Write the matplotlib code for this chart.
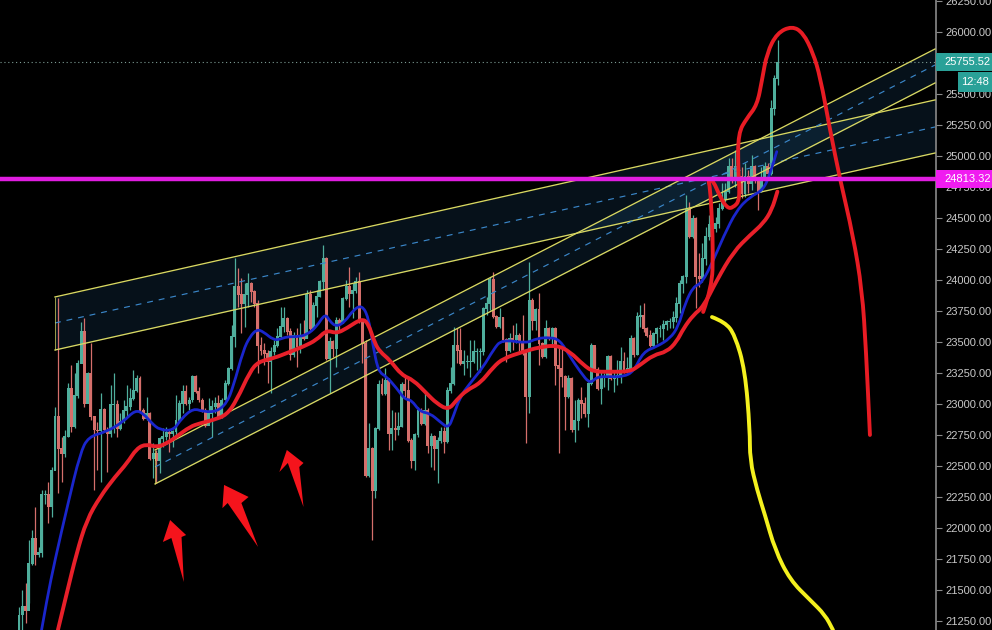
import matplotlib
matplotlib.use('Agg')
import matplotlib.pyplot as plt
from matplotlib.patches import Rectangle, Polygon, PathPatch
from matplotlib.path import Path

# candle data, open of each bar is the previous close
first_open = 21177
closes = [21298,21365,21338,21715,21916,21782,21800,22266,22270,22172,22467,22898,22642,22602,22736,23126,22817,23072,23327,23583,
          23005,23247,22898,22790,22785,22957,22790,22758,22992,22992,22803,22857,22951,22978,23045,23112,23207,22951,22884,22924,
          22562,22602,22548,22723,22736,22768,22763,22776,22870,23005,23099,23005,23032,23220,23099,23032,22951,22830,22924,22978,
          23005,22898,23032,23166,23287,23542,23946,23879,23811,23879,23973,23905,23811,23475,23435,23408,23341,23421,23475,23542,
          23623,23690,23583,23395,23556,23462,23556,23529,23879,23610,23798,23865,23986,24174,23368,23502,23448,23677,23650,23852,
          23946,23892,23919,23986,23664,23489,22427,22642,22306,22803,23153,23086,23193,22763,22803,22790,22817,23153,23112,22709,
          22548,22750,22951,22844,22951,22669,22736,22642,22709,22776,22696,23112,23166,23475,23435,23327,23341,23341,23341,23421,
          23421,23421,23771,23811,24000,23704,23623,23698,23516,23435,23529,23516,23556,23502,23408,23059,23838,23677,23758,23489,
          23381,23610,23542,23610,23314,23287,23220,23059,23206,22790,22870,23032,23005,22924,23166,23475,23274,23126,23220,23220,
          23381,23206,23220,23233,23341,23260,23287,23529,23395,23704,23717,23610,23556,23475,23569,23610,23610,23637,23664,23664,
          23700,23812,23973,24027,24565,24350,24498,24027,24014,24175,24350,24444,24417,24457,24578,24645,24713,24914,24834,24914,
          24834,24699,24834,24780,24914,24820,24713,24820,24914,24860,25385,25627,25755.52]
highs = [21365,21500,21553,21903,21983,22172,21850,22306,22306,22373,22494,22978,23852,22736,22790,23166,23314,23247,23354,23664,
         23690,23260,23489,22898,22857,23086,22965,22817,23153,23247,23032,22924,23032,23153,23126,23274,23233,23225,22965,23059,
         22938,22682,22629,22736,22803,22817,22790,22790,23072,23032,23153,23153,23059,23233,23233,23139,23045,22965,23045,23032,
         23059,23072,23045,23193,23300,23637,24174,24094,24013,23973,24053,23986,23919,23838,23542,23489,23435,23462,23516,23610,
         23785,23785,23704,23610,23583,23610,23650,23677,23919,23919,23825,23919,23999,24282,24188,23542,23516,23704,23690,23865,
         23999,24107,23973,24026,24067,23677,23516,22844,22656,22817,23193,23206,23287,23206,22951,22938,22938,23180,23233,23220,
         22723,22763,22978,22965,23086,22965,22763,22750,22736,22817,22817,23139,23300,23623,23610,23610,23435,23395,23516,23516,
         23448,23448,23785,23865,24026,24067,23717,23771,23704,23529,23570,23637,23650,23570,23717,23435,24147,23852,23771,23892,
         23502,23677,23623,23623,23623,23462,23462,23233,23233,23220,23032,23045,23139,23059,23180,23489,23462,23300,23260,23247,
         23395,23395,23274,23354,23462,23421,23381,23556,23542,23744,23798,23811,23623,23596,23583,23623,23637,23677,23677,23690,
         23750,23866,24000,24041,24686,24632,24525,24511,24215,24296,24430,24525,24457,24511,24619,24780,24780,24981,24981,25049,
         24928,24914,24941,24887,25008,24928,24834,24914,24955,24941,25452,25653,25936]
lows = [21177,21177,21231,21392,21701,21701,21768,21768,22190,22037,22091,22467,22279,22373,22575,22736,22776,22803,23050,23327,
        22978,23005,22871,22306,22467,22373,22776,22454,22736,22763,22736,22790,22844,22898,22951,23032,23099,22938,22870,22870,
        22548,22400,22360,22441,22656,22709,22615,22656,22750,22857,22924,22992,22951,23018,23085,23018,22938,22817,22844,22736,
        22924,22884,22884,23032,23153,23274,23462,23785,23570,23623,23785,23825,23785,23247,23395,23314,23166,23086,23395,23462,
        23529,23583,23556,23354,23381,23300,23408,23516,23529,23596,23610,23704,23865,23919,23354,23086,23381,23300,23596,23650,
        23838,23785,23690,23892,23650,23327,22414,22414,21903,22239,22790,23072,23072,22629,22629,22709,22750,22817,23059,22696,
        22481,22467,22736,22830,22830,22602,22494,22467,22360,22682,22602,22682,23086,23153,23327,23314,23233,23287,23220,23327,
        23274,23260,23395,23717,23758,23690,23610,23610,23502,23341,23421,23435,23489,23408,23395,22682,22924,23596,23596,23314,
        23368,23368,23516,23475,23153,22602,23139,22790,23045,22776,22696,22790,22884,22898,22817,23153,23260,23112,22998,23139,
        23112,23193,23099,23153,23166,23247,23247,23287,23381,23395,23623,23583,23542,23462,23448,23489,23542,23516,23596,23610,
        23610,23664,23732,23893,23973,24336,24336,23772,23947,23987,24121,24323,24189,24390,24417,24565,24632,24699,24780,24753,
        24780,24659,24672,24699,24726,24780,24565,24713,24807,24834,24847,25331,25573]

# moving averages, bar index and price
blue_x = [6.9,8.5,11,15,18.7,21.2,26.8,31.9,35.5,38,40.6,43.1,47.2,49.7,53.3,56.4,60.4,63.5,65.5,68.6,70.6,72.7,74.7,77.8,79.8,81.8,84.9,87.9,91,
          93.6,95.1,97.1,99.7,102.2,104.8,106.8,108.3,109.9,112.4,115.5,118,120,122.6,125.7,128.7,131.3,132.8,134.9,137.9,142,145,147.6,
          155.2,158.3,162.4,165.4,168.5,171.6,174.6,176.7,180.7,184.8,187.9,190.9,195,199.1,201.6,203.7,206.2,208.8,212.4,215.4,219.5,223.6,227.6,229.7,231.7]
blue_y = [21177,21419,21742,22199,22602,22736,22776,22857,22951,22924,22844,22790,22785,22884,22965,22938,22938,23005,23139,23435,23542,23602,23583,23516,23521,23542,23542,23556,23623,
          23731,23664,23623,23664,23758,23798,23704,23462,23260,23220,23126,23037,23032,22938,22924,22857,22803,22900,23059,23166,23300,23435,23521,
          23489,23529,23537,23516,23381,23260,23161,23220,23220,23220,23260,23421,23462,23529,23624,23812,23947,23973,24162,24350,24565,24672,24726,24860,25035]
red_x = [11.9,14.6,17.6,20.7,24.8,29.4,33,36,39,42.1,45.2,48.2,52.3,55.4,59.4,63.5,66.6,70.6,73.2,77.8,82.9,86.9,91,94,97.1,100.2,104.8,106.8,108.8,110.4,113.4,117,120.6,124.6,127.7,131.3,
         133.8,136.9,141,145.1,148.1,154.2,158.8,164.4,168.5,172.6,175.6,180.7,186.8,189.9,194,198.1,201.1,203.2,206.2,209.3,213.4,218.5,223.6,227.6,230.2,231.9]
red_y = [21177,21473,21796,22064,22252,22414,22521,22642,22677,22650,22683,22736,22817,22844,22871,22911,23032,23260,23341,23368,23421,23462,23516,23596,23569,23610,23690,23650,23489,23421,23354,23233,23193,23086,23005,22951,
         23032,23112,23166,23300,23368,23421,23456,23475,23421,23314,23260,23260,23260,23314,23395,23421,23502,23610,23718,23785,24000,24229,24363,24457,24565,24713]

# channels: start and end of each line as bar index and price
chan1_x = [11.0,280.1]
chan1_top = [23863,25452]
chan1_mid = [23653,25234]
chan1_bot = [23435,25024]
chan2_x = [41.6,280.1]
chan2_top = [22629,25863]
chan2_mid = [22492,25734]
chan2_bot = [22355,25589]

# hand drawn strokes
loop_x = [209.2,211.9,212.2,211.9,211.3,210.7,212.2,214.4,216.5,218.3,220.5,219.9,219.9,222.6,225.7,227.2,228.7,231.8,236.4,239.8,242.8,245,248,251.1,255,257.8,259,260.2]
loop_y = [23742,23943,24218,24484,24750,24806,24806,24669,24581,24581,24645,24887,25185,25306,25411,25613,25831,25992,26048,25992,25831,25637,25210,24806,24363,23919,23435,22750]
yellow_x = [211.9,215.9,218.9,222,223.5,223.5,225.7,228.1,231.2,235.8,241.9,246.5,248.9]
yellow_y = [23701,23661,23556,23274,22790,22548,22306,22105,21822,21580,21419,21298,21177]
arrow1_x = [46.2,51.1,49.7,50.4,46.6,44]
arrow1_y = [22064,21943,21927,21564,21919,21887]
arrow2_x = [62.7,70.2,68.0,73.1,63.8,62.2]
arrow2_y = [22347,22250,22201,21847,22201,22160]
arrow3_x = [81.9,87.0,85.7,87.0,82.2,79.6]
arrow3_y = [22629,22524,22492,22169,22524,22451]

ticks = [21250 + 250*i for i in range(21)]
last_price = 25755.52
line_price = 24813.32
scale_font = 'Liberation Sans'

# curve through the midpoints so strokes come out round
def smooth(ax,xs,ys,col,lw,z):
    pts = list(zip(xs,ys))
    verts = [pts[0]]
    codes = [Path.MOVETO]
    for k in range(1,len(pts)-1):
        mid = ((pts[k][0]+pts[k+1][0])/2,(pts[k][1]+pts[k+1][1])/2)
        verts += [pts[k],mid]
        codes += [Path.CURVE3,Path.CURVE3]
    verts.append(pts[-1])
    codes.append(Path.LINETO)
    ax.add_patch(PathPatch(Path(verts,codes),fill=False,edgecolor=col,lw=lw,zorder=z,capstyle='round',joinstyle='round'))

fig = plt.figure(figsize=(9.92,6.30),dpi=100,facecolor='black')
ax = fig.add_axes([0,0,936/992,1],facecolor='black')
ax.set_xlim(-5.81,280.4)
ax.set_ylim(21177,26258)

# channel fills
ax.fill_between(chan1_x,chan1_bot,chan1_top,color='#2a6fa8',alpha=0.16,lw=0,zorder=1)
ax.fill_between(chan2_x,chan2_bot,chan2_top,color='#2a6fa8',alpha=0.16,lw=0,zorder=1)

# candles
up_col = '#4fae9c'
down_col = '#d56f6b'
opens = [first_open] + closes[:-1]
for i in range(len(closes)):
    col = up_col if closes[i] >= opens[i] else down_col
    ax.vlines(i,lows[i],highs[i],color=col,lw=0.9,zorder=2)
    ax.bar(i,abs(closes[i]-opens[i])+8,0.9,bottom=min(opens[i],closes[i])-4,color=col,lw=0,zorder=2)

# channel lines
for x,top,mid,bot in [(chan1_x,chan1_top,chan1_mid,chan1_bot),(chan2_x,chan2_top,chan2_mid,chan2_bot)]:
    ax.plot(x,top,color='#d8d862',lw=0.95,zorder=3)
    ax.plot(x,bot,color='#d8d862',lw=0.95,zorder=3)
    ax.plot(x,mid,color='#3a86c8',lw=0.85,ls=(0,(5,5)),zorder=3)
ax.vlines(chan1_x[0],chan1_bot[0],chan1_top[0],color='#d8d862',lw=0.5,zorder=3)
ax.vlines(chan2_x[0],chan2_bot[0],chan2_top[0],color='#d8d862',lw=0.5,zorder=3)

# moving averages
smooth(ax,blue_x,blue_y,'#1a26cc',2,4)
smooth(ax,red_x,red_y,'#e8202a',2.8,5)

# drawings
smooth(ax,loop_x,loop_y,'#e81c24',2.8,6)
smooth(ax,yellow_x,yellow_y,'#f4f01e',2.8,6)
for px,py in [(arrow1_x,arrow1_y),(arrow2_x,arrow2_y),(arrow3_x,arrow3_y)]:
    ax.add_patch(Polygon(list(zip(px,py)),closed=True,color='#f5141c',lw=0,zorder=6))

# last price line and magenta level
ax.axhline(last_price,color='#7d9c94',lw=0.8,ls=(0,(1,2.5)),zorder=3)
ax.axhline(line_price,color='#e01ee0',lw=3.2,zorder=7)

# right scale
for s in ['top','left','bottom']:
    ax.spines[s].set_visible(False)
ax.spines['right'].set_color('#8a8a8a')
ax.spines['right'].set_linewidth(1.2)
ax.set_xticks([])
ax.yaxis.tick_right()
ax.set_yticks(ticks)
ax.set_yticklabels(['%.2f' % t for t in ticks],fontsize=8,color='#c8c8c8',family=scale_font)
ax.tick_params(axis='y',length=4,width=0.8,color='#8a8a8a',pad=3)

# price tags on the scale
tr = ax.get_yaxis_transform()
right = 992/936
ax.add_patch(Rectangle((1,last_price-72),right-1,145,transform=tr,color='#2aa198',lw=0,clip_on=False,zorder=10))
ax.text(1.009,last_price,'25755.52',transform=tr,color='white',fontsize=8,family=scale_font,va='center',zorder=11,clip_on=False)
ax.add_patch(Rectangle((958/936,25516),right-958/936,161,transform=tr,color='#2aa198',lw=0,clip_on=False,zorder=10))
ax.text(975/936,25596,'12:48',transform=tr,color='white',fontsize=8,family=scale_font,va='center',ha='center',zorder=11,clip_on=False)
ax.add_patch(Rectangle((1,line_price-72),right-1,145,transform=tr,color='#f01cf0',lw=0,clip_on=False,zorder=10))
ax.text(1.009,line_price,'24813.32',transform=tr,color='white',fontsize=8,family=scale_font,va='center',zorder=11,clip_on=False)

fig.savefig('out.png',dpi=100,facecolor='black')
